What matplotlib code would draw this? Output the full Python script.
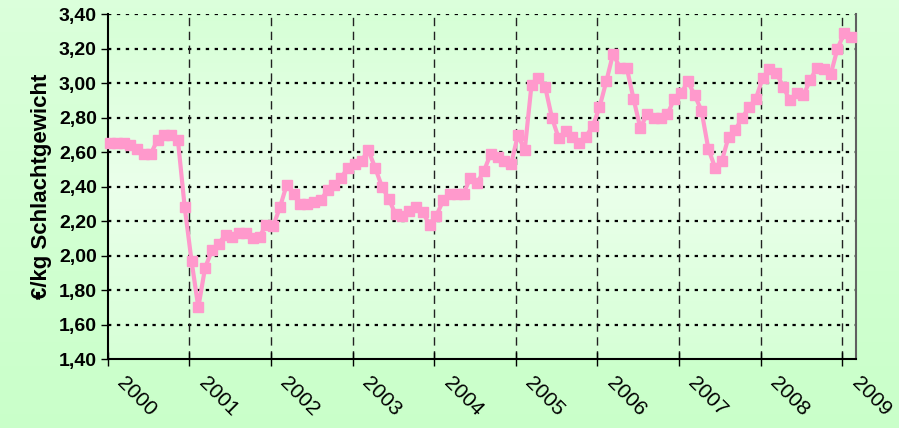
import numpy as np
import matplotlib
matplotlib.use("Agg")
import matplotlib.pyplot as plt
from matplotlib.transforms import ScaledTranslation

# monatliche Preise ab Jan 2000 (Euro je kg Schlachtgewicht)
preise = [2.65, 2.65, 2.65, 2.64, 2.62, 2.59, 2.59, 2.67, 2.70, 2.70, 2.67, 2.28,
          1.97, 1.70, 1.93, 2.03, 2.07, 2.12, 2.11, 2.13, 2.13, 2.10, 2.11, 2.18,
          2.17, 2.28, 2.41, 2.36, 2.30, 2.30, 2.31, 2.32, 2.38, 2.41, 2.45, 2.51,
          2.53, 2.55, 2.61, 2.51, 2.40, 2.33, 2.24, 2.23, 2.26, 2.28, 2.25, 2.18,
          2.23, 2.32, 2.36, 2.36, 2.36, 2.45, 2.42, 2.49, 2.59, 2.57, 2.55, 2.53,
          2.70, 2.61, 2.99, 3.03, 2.98, 2.80, 2.68, 2.72, 2.69, 2.65, 2.69, 2.75,
          2.86, 3.01, 3.17, 3.09, 3.09, 2.91, 2.74, 2.82, 2.80, 2.80, 2.82, 2.91,
          2.94, 3.01, 2.93, 2.84, 2.62, 2.51, 2.55, 2.69, 2.73, 2.80, 2.86, 2.91,
          3.03, 3.08, 3.06, 2.98, 2.90, 2.94, 2.93, 3.02, 3.09, 3.08, 3.05, 3.20,
          3.29, 3.27]
jahre = [str(j) for j in range(2000, 2010)]
y_ticks = [1.40, 1.60, 1.80, 2.00, 2.20, 2.40, 2.60, 2.80, 3.00, 3.20, 3.40]

plt.rcParams['font.family'] = ['Liberation Sans', 'DejaVu Sans']

fig = plt.figure(figsize=(8.99, 4.28), dpi=100)

# Hintergrund mit Farbverlauf
bg = fig.add_axes([0, 0, 1, 1], zorder=-10)
grad = np.linspace(0, 1, 256).reshape(-1, 1)
top = np.array([0.86, 1.0, 0.86])
bot = np.array([0.79, 1.0, 0.79])
img = top + (bot - top) * grad[:, :, None]
bg.imshow(img, aspect='auto', extent=[0, 1, 0, 1])
bg.axis('off')

ax = fig.add_axes([0.120, 0.161, 0.832, 0.806])
ax.set_facecolor('none')

x = np.arange(len(preise))
x0 = -0.3
xmax = x0 + 110
ax.set_xlim(x0, xmax)
ax.set_ylim(1.40, 3.40)

# Plotbereich Verlauf
t = np.concatenate([np.linspace(0, 1, 128), np.linspace(1, 0, 128)]).reshape(-1, 1)
c_edge = np.array([0.84, 1.0, 0.84])
c_mid = np.array([0.92, 1.0, 0.92])
pimg = c_edge + (c_mid - c_edge) * t[:, :, None]
ax.imshow(pimg, aspect='auto', extent=[x0, xmax, 1.40, 3.40], zorder=0)

# Gitter
for yv in y_ticks[1:]:
    ax.axhline(yv, color='black', lw=1.6, ls=(0, (1.5, 2.5)), zorder=1)
xt = [x0 + 12 * k for k in range(len(jahre))]
for xv in xt[1:]:
    ax.axvline(xv, color='#222222', lw=1.0, ls=(0, (6, 4)), zorder=1)

ax.plot(x, preise, color='#ff99cc', lw=3, marker='s', ms=7, zorder=3,
        clip_on=False)

ax.set_yticks(y_ticks)
ax.set_yticklabels([('%.2f' % v).replace('.', ',') for v in y_ticks],
                   fontsize=14, fontweight='bold')
ax.set_xticks(xt)
ax.set_xticklabels(jahre, rotation=-45, ha='left', va='top',
                   rotation_mode='anchor', fontsize=15)
ax.tick_params(axis='x', direction='inout', length=10, width=1, pad=5)
ax.tick_params(axis='y', direction='out', length=5, width=1, pad=3)

shift = ScaledTranslation(19 / 100, 0, fig.dpi_scale_trans)
for lab in ax.get_xticklabels():
    lab.set_transform(lab.get_transform() + shift)

ax.set_ylabel('€/kg Schlachtgewicht', fontsize=16, fontweight='bold',
              labelpad=5)

ax.spines['top'].set_visible(False)
ax.spines['right'].set_color('#606060')
ax.spines['right'].set_linewidth(1.5)
ax.spines['left'].set_linewidth(1.5)
ax.spines['bottom'].set_linewidth(1.5)

fig.savefig('out.png', dpi=100)
